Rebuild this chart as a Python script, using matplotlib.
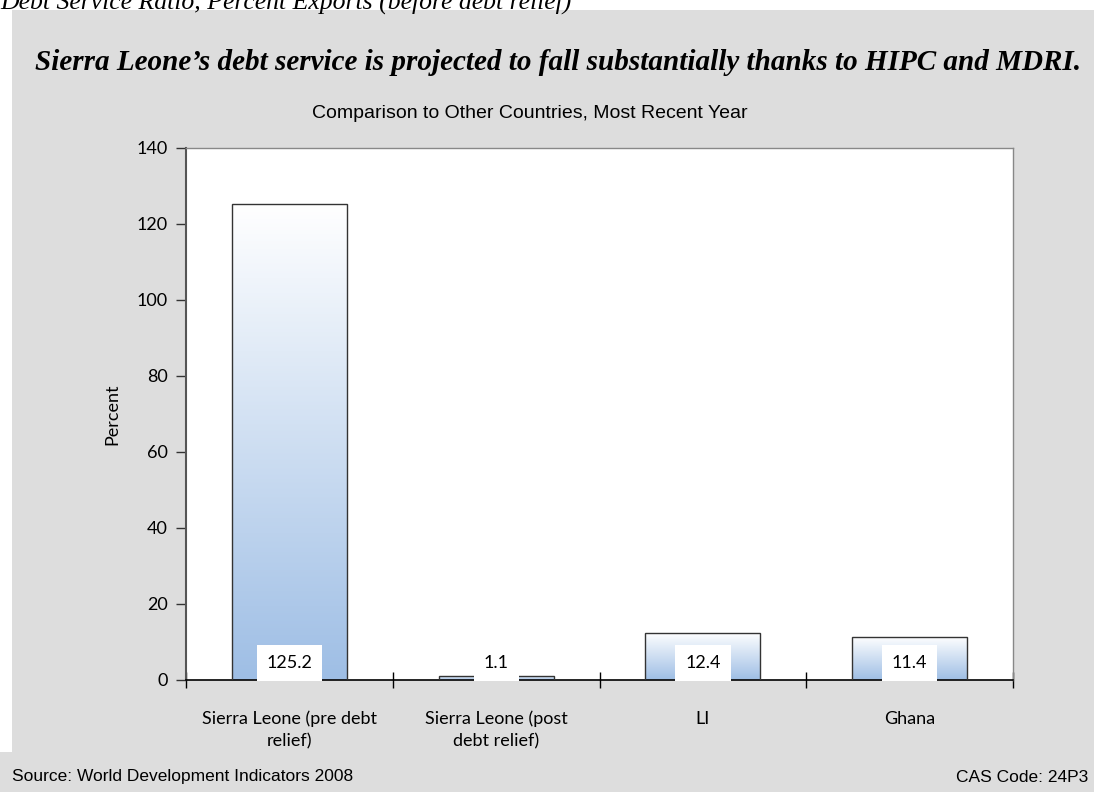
import numpy as np
import matplotlib
matplotlib.use("Agg")
import matplotlib.pyplot as plt
from matplotlib.colors import LinearSegmentedColormap
from matplotlib.patches import Rectangle

# Data
categories = ["Sierra Leone (pre debt\nrelief)", "Sierra Leone (post\ndebt relief)", "LI", "Ghana"]
values = [125.2, 1.1, 12.4, 11.4]
value_labels = ["125.2", "1.1", "12.4", "11.4"]
yticks = [0, 20, 40, 60, 80, 100, 120, 140]

GRAY = "#DDDDDD"
LABEL_FONT = "Lato"

fig = plt.figure(figsize=(10.94, 7.92), dpi=100)
fig.patch.set_facecolor("white")

# Gray panel behind the chart
fig.patches.append(Rectangle((12 / 1094, 0), 1, 1 - 10 / 792, transform=fig.transFigure,
                             facecolor=GRAY, edgecolor="none", zorder=-10))
fig.patches.append(Rectangle((0, 0), 1, 40 / 792, transform=fig.transFigure,
                             facecolor=GRAY, edgecolor="none", zorder=-10))

# Heading above the panel, cut off by the top edge as in the source
fig.text(0.0, 1 - 2 / 792, "Debt Service Ratio, Percent Exports (before debt relief)",
         family="Liberation Serif", style="italic", fontsize=18.5, ha="left", va="center")

fig.text(558 / 1094, 1 - 62 / 792,
         "Sierra Leone\u2019s debt service is projected to fall substantially thanks to HIPC and MDRI.",
         family="Liberation Serif", style="italic", weight="bold", fontsize=21,
         ha="center", va="center")

fig.text(530 / 1094, 1 - 113 / 792, "Comparison to Other Countries, Most Recent Year",
         family="Liberation Sans", fontsize=14, ha="center", va="center")

fig.text(12 / 1094, 1 - 777 / 792, "Source: World Development Indicators 2008",
         family="Liberation Sans", fontsize=12.5, ha="left", va="center")
fig.text(1088 / 1094, 1 - 777 / 792, "CAS Code: 24P3",
         family="Liberation Sans", fontsize=12.5, ha="right", va="center")

ax = fig.add_axes([186 / 1094, 1 - 680 / 792, (1013 - 186) / 1094, (680 - 148) / 792])
ax.set_facecolor("white")

x = np.arange(len(categories))
bar_w = 0.556
bars = ax.bar(x, values, width=bar_w, color="none", edgecolor="#333333", linewidth=1.0, zorder=3)

# Vertical gradient fill: white at top to light blue at bottom
cmap = LinearSegmentedColormap.from_list("grad", ["#9EBEE5", "#FFFFFF"])
grad = np.linspace(0, 1, 256).reshape(-1, 1)
for b, v in zip(bars, values):
    x0 = b.get_x()
    im = ax.imshow(grad, cmap=cmap, aspect="auto", origin="lower",
                   extent=(x0, x0 + bar_w, 0, v), zorder=2)
    im.set_clip_path(b)

# Value labels in white boxes at bar bottoms
for xi, lab in zip(x, value_labels):
    ax.text(xi, 4.5, lab, ha="center", va="center", fontsize=13, family=LABEL_FONT,
            zorder=5, bbox=dict(boxstyle="square,pad=0.55", facecolor="white", edgecolor="none"))

ax.set_xlim(-0.5, 3.5)
ax.set_ylim(0, 140)
ax.set_yticks(yticks)
ax.set_yticklabels([str(t) for t in yticks], family=LABEL_FONT, fontsize=13)
ax.set_xticks(x)
ax.set_xticklabels(categories, family=LABEL_FONT, fontsize=13, linespacing=1.5)
ax.set_xticks(np.arange(-0.5, 3.6, 1.0), minor=True)
ax.tick_params(axis="x", which="major", length=0, pad=22)
ax.tick_params(axis="x", which="minor", length=12, direction="inout", width=1, color="black")
ax.tick_params(axis="y", which="major", length=7, direction="out", width=1,
               color="#333333", pad=6)

ax.set_ylabel("Percent", family=LABEL_FONT, fontsize=13, labelpad=12)

for side in ["top", "right"]:
    ax.spines[side].set_color("#888888")
    ax.spines[side].set_linewidth(1)
ax.spines["left"].set_color("#555555")
ax.spines["left"].set_linewidth(1.5)
ax.spines["bottom"].set_color("black")
ax.spines["bottom"].set_linewidth(1.2)

fig.savefig("out.png", dpi=100)
